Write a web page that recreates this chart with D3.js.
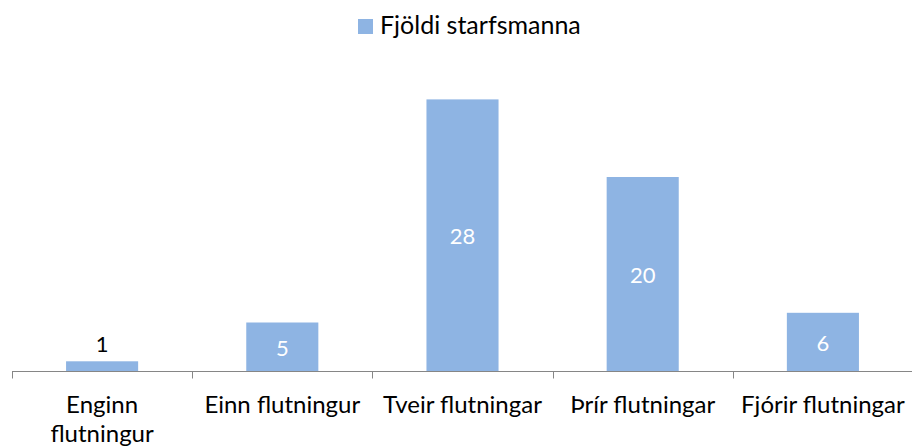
<!DOCTYPE html>
<html>
<head>
<meta charset="utf-8">
<script src="https://cdn.jsdelivr.net/npm/d3@7"></script>
<style>
  body { margin: 0; background: #fff; }
  svg text { font-family: Lato, "Open Sans", sans-serif; }
</style>
</head>
<body>
<svg id="chart"></svg>
<script>
const categories = [["Enginn", "flutningur"], ["Einn flutningur"], ["Tveir flutningar"], ["Þrír flutningar"], ["Fjórir flutningar"]];
const values = [1, 5, 28, 20, 6];
const seriesName = "Fjöldi starfsmanna";

const width = 912, height = 447;
const margin = { top: 80, right: -1, bottom: 76, left: 12 };
const barColor = "#8eb4e3";

const svg = d3.select("#chart")
    .attr("width", width)
    .attr("height", height);

const x = d3.scaleBand()
    .domain(d3.range(categories.length))
    .range([margin.left, width - margin.right])
    .paddingInner(0.6)
    .paddingOuter(0.3);

const y = d3.scaleLinear()
    .domain([0, 30])
    .range([height - margin.bottom, margin.top]);

// bars
svg.selectAll(".bar")
    .data(values)
    .enter().append("rect")
    .attr("class", "bar")
    .attr("x", (d, i) => x(i))
    .attr("y", d => y(d))
    .attr("width", x.bandwidth())
    .attr("height", d => y(0) - y(d))
    .attr("fill", barColor);

// axis line, ticks sit between categories
const axisY = y(0) + 0.5;
const step = x.step();
svg.append("line")
    .attr("x1", margin.left).attr("x2", width)
    .attr("y1", axisY).attr("y2", axisY)
    .attr("stroke", "#868686").attr("stroke-width", 1);

svg.selectAll(".tick")
    .data(d3.range(categories.length + 1))
    .enter().append("line")
    .attr("class", "tick")
    .attr("x1", i => Math.round(margin.left + i * step) + 0.5)
    .attr("x2", i => Math.round(margin.left + i * step) + 0.5)
    .attr("y1", axisY)
    .attr("y2", axisY + 7)
    .attr("stroke", "#868686");

// category labels
const lab = svg.selectAll(".cat")
    .data(categories)
    .enter().append("text")
    .attr("class", "cat")
    .attr("text-anchor", "middle")
    .attr("font-size", 24)
    .attr("fill", "#000");
lab.each(function (lines, i) {
    const t = d3.select(this);
    lines.forEach((l, j) => {
        t.append("tspan")
            .attr("x", x(i) + x.bandwidth() / 2)
            .attr("y", 413 + j * 29)
            .text(l);
    });
});

// data labels (small bar -> label above in black)
svg.selectAll(".val")
    .data(values)
    .enter().append("text")
    .attr("class", "val")
    .attr("text-anchor", "middle")
    .attr("font-size", 22)
    .attr("x", (d, i) => x(i) + x.bandwidth() / 2)
    .attr("y", d => {
        const h = y(0) - y(d);
        return h < 25 ? y(d) - 9 : (y(d) + y(0)) / 2 + 9;
    })
    .attr("fill", d => (y(0) - y(d) < 25 ? "#000" : "#fff"))
    .text(d => d);

// legend
const legend = svg.append("g").attr("transform", "translate(358,19)");
legend.append("rect")
    .attr("width", 15).attr("height", 15)
    .attr("fill", barColor);
legend.append("text")
    .attr("x", 22).attr("y", 15)
    .attr("font-size", 25)
    .attr("fill", "#000")
    .text(seriesName);
</script>
</body>
</html>
